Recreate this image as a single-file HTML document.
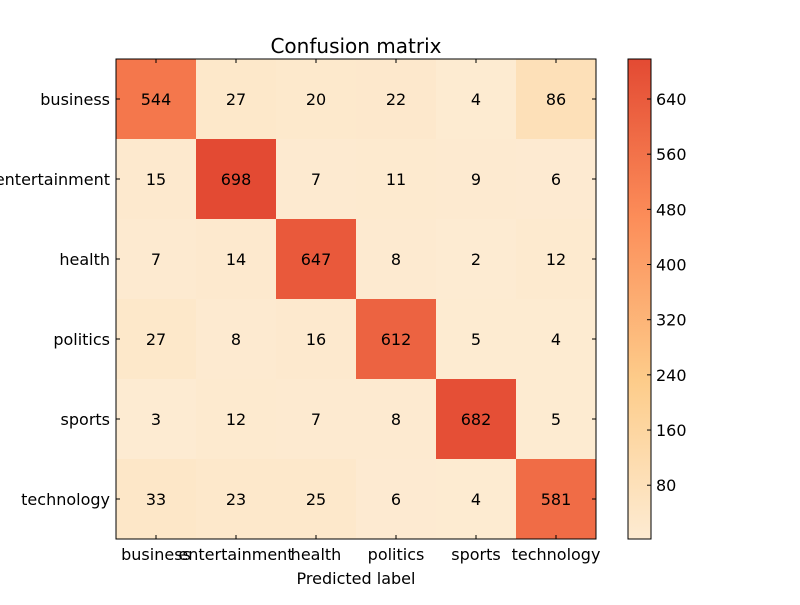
<!DOCTYPE html>
<html><head><meta charset="utf-8"><style>
body{margin:0;background:#fff;}
svg{font-family:"DejaVu Sans","Liberation Sans",sans-serif;}
</style></head><body>
<svg id="c" width="800" height="600" xmlns="http://www.w3.org/2000/svg">
<rect width="800" height="600" fill="#fff"/>
</svg>
<script>
const labels = ["business","entertainment","health","politics","sports","technology"];
const row0 = [544,27,20,22,4,86];
const row1 = [15,698,7,11,9,6];
const row2 = [7,14,647,8,2,12];
const row3 = [27,8,16,612,5,4];
const row4 = [3,12,7,8,682,5];
const row5 = [33,23,25,6,4,581];
const matrix = [row0,row1,row2,row3,row4,row5];
const cbTicks = [80,160,240,320,400,480,560,640];

const svg = document.getElementById('c');
const NS = "http://www.w3.org/2000/svg";
function mk(tag, attrs, parent){ const e=document.createElementNS(NS,tag); for(const k in attrs) e.setAttribute(k,attrs[k]); (parent||svg).appendChild(e); return e; }
const flat = matrix.flat();
const vmin = Math.min(...flat), vmax = Math.max(...flat);
const stops = [[0,[253,235,210]],[0.33,[253,204,138]],[0.67,[252,141,89]],[1,[227,74,51]]];
function color(v){
  let t=(v-vmin)/(vmax-vmin); t=Math.max(0,Math.min(1,t));
  for(let i=1;i<stops.length;i++){ if(t<=stops[i][0]){ const a=stops[i-1],b=stops[i]; const f=(t-a[0])/(b[0]-a[0]); const c=a[1].map((x,j)=>Math.round(x+(b[1][j]-x)*f)); return `rgb(${c})`; } }
  return `rgb(${stops[stops.length-1][1]})`;
}
const X0=116, Y0=59, W=480, H=480, n=labels.length, cw=W/n, ch=H/n;
const xs = i => X0 + i*cw, ys = i => Y0 + i*ch;
matrix.forEach((row,r)=>row.forEach((v,c)=>{
  const rc=mk('rect',{x:xs(c),y:ys(r),width:cw,height:ch,fill:color(v)});
  
  
  const t=mk('text',{x:xs(c)+cw/2,y:ys(r)+ch/2+6,'text-anchor':'middle','font-size':16,fill:'#000'});
  t.textContent=v;
  
  
}));
mk('rect',{x:X0,y:Y0,width:W,height:H,fill:'none',stroke:'#000','stroke-width':1});
labels.forEach((l,i)=>{
  const cx=xs(i)+cw/2, cy=ys(i)+ch/2;
  mk('line',{x1:cx,y1:Y0+H,x2:cx,y2:Y0+H-4,stroke:'#000'});
  mk('line',{x1:cx,y1:Y0,x2:cx,y2:Y0+4,stroke:'#000'});
  mk('line',{x1:X0,y1:cy,x2:X0+4,y2:cy,stroke:'#000'});
  mk('line',{x1:X0+W,y1:cy,x2:X0+W-4,y2:cy,stroke:'#000'});
  const tx=mk('text',{x:cx,y:560,'text-anchor':'middle','font-size':16});
  tx.textContent=l;
  
  
  const ty=mk('text',{x:110,y:cy+6,'text-anchor':'end','font-size':16});
  ty.textContent=l;
  
  
});
const title=mk('text',{x:356,y:53,'text-anchor':'middle','font-size':20});
title.textContent='Confusion matrix';


const xl=mk('text',{x:356,y:584,'text-anchor':'middle','font-size':16});
xl.textContent='Predicted label';


const CX=628, CW=23;
const defs=mk('defs',{});
const g=mk('linearGradient',{id:'cb',x1:0,y1:1,x2:0,y2:0},defs);
stops.forEach(s=>mk('stop',{offset:s[0],'stop-color':`rgb(${s[1]})`},g));
const cb=mk('rect',{x:CX,y:Y0,width:CW,height:H,fill:'url(#cb)',stroke:'#000'});


const cy = v => Y0 + H - (v-vmin)/(vmax-vmin)*H;
cbTicks.forEach(v=>{
  const y=cy(v);
  mk('line',{x1:CX+CW-4,y1:y,x2:CX+CW,y2:y,stroke:'#000'});
  const t=mk('text',{x:CX+CW+5,y:y+6,'font-size':16});
  t.textContent=v;
  
  
});
</script>
</body></html>
